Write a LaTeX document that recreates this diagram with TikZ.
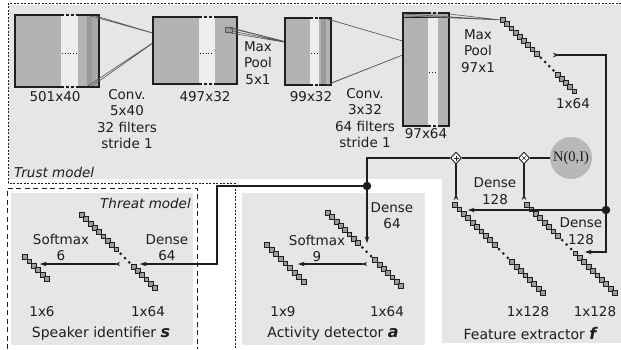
\documentclass[tikz,border=0pt]{standalone}
\usepackage{fontspec}
\setmainfont{DejaVu Sans}
\newfontfamily\nfont{Liberation Serif}
\usetikzlibrary{arrows.meta,shapes.geometric}

\definecolor{panel}{HTML}{E6E6E6}
\definecolor{stripe}{HTML}{EEEEEE}
\definecolor{blockgray}{HTML}{B3B3B3}
\definecolor{darkslice}{HTML}{999999}
\definecolor{midslice}{HTML}{A8A8A8}
\definecolor{ink}{HTML}{1E1E1E}
\definecolor{cellgray}{HTML}{9C9C9C}
\definecolor{projgray}{HTML}{5A5A5A}
\definecolor{noisegray}{HTML}{B8B8B8}

\tikzset{
  lbl/.style={font=\fontsize{13.5}{16.5}\selectfont, text=ink, align=center, inner sep=0pt},
  wire/.style={draw=ink, line width=1.1pt},
  fwd/.style={-{Stealth[length=6.5pt,width=4.5pt,inset=2pt]}},
  bwd/.style={-{Stealth[length=6.5pt,width=4.5pt,inset=2pt,reversed]}},
  softarrow/.style={{Stealth[length=5pt,width=4pt,inset=1.5pt,reversed]}-{Stealth[length=6.5pt,width=4.5pt,inset=2pt]}},
  cell/.style={draw=ink, fill=cellgray, line width=1pt},
  proj/.style={draw=projgray, line width=0.6pt},
  blk/.style={draw=ink, line width=1.2pt},
  blkdash/.style={draw=ink, line width=1.2pt, dash pattern=on 3pt off 2pt},
  junction/.style={circle, fill=ink, minimum size=8.5pt, inner sep=0pt},
  op/.style={diamond, draw=ink, fill=white, line width=0.9pt, minimum width=11pt, minimum height=12pt, inner sep=0pt},
  trustline/.style={draw=ink, line width=0.7pt, dash pattern=on 2pt off 1.5pt},
  threatline/.style={draw=ink, line width=0.8pt, dash pattern=on 5pt off 3.5pt},
}

% diagonal run of cells with a row of dots: x, y, cells before, dots, cells after, step
\newcommand\vchain[6]{%
  \pgfmathtruncatemacro\vlast{#3+#4+#5-1}%
  \foreach \k [evaluate=\k as \px using #1+\k*#6, evaluate=\k as \py using #2+\k*#6] in {0,...,\vlast}{%
    \ifnum\k<#3\relax
      \draw[cell] (\px-2.4,\py-2.4) rectangle (\px+2.4,\py+2.4);
    \else\ifnum\k<\numexpr#3+#4\relax
      \fill[ink] (\px,\py) circle (1.5pt);
    \else
      \draw[cell] (\px-2.4,\py-2.4) rectangle (\px+2.4,\py+2.4);
    \fi\fi}}

\begin{document}
\begin{tikzpicture}[x=1pt,y=-1pt]
\useasboundingbox (0,0) rectangle (621,349);

% ---------- panels ----------
\fill[panel] (9,5) rectangle (621,179);
\fill[panel] (442,179) rectangle (621,343);
\fill[panel] (242,193) rectangle (425,345);
\fill[panel] (11,193) rectangle (193,345);

% ---------- model boundaries ----------
\draw[trustline] (621,3) -- (8,3) -- (8,183) -- (235,183) -- (235,349);
\draw[threatline] (7,349) -- (7,188) -- (197,188) -- (197,349);
\node[lbl, anchor=west, font=\fontsize{13.5}{16}\selectfont\itshape] (trust) at (14,172) {Trust model};
\node[lbl, anchor=east, font=\fontsize{13.5}{16}\selectfont\itshape] (threat) at (191,203) {Threat model};

% ---------- block 501x40 ----------
\fill[blockgray] (15,15) rectangle (99,87);
\fill[stripe] (61,15) rectangle (78,87);
\fill[darkslice] (87,15) rectangle (92,87);
\fill[midslice] (92,15) rectangle (99,87);
\draw[blk] (61,15) -- (15,15) -- (15,87) -- (61,87);
\draw[blk] (78,15) -- (99,15) -- (99,87) -- (78,87);
\draw[blkdash] (61,15) -- (78,15) (61,87) -- (78,87);
\draw[ink, line width=0.8pt, dotted] (62,53) -- (77,53);
\coordinate (p1) at (163,36);
\draw[proj] (91,16) -- (p1) (96,16) -- (p1) (88,86) -- (p1) (92,86) -- (p1);
\node[lbl] (b1) at (55,97) {501x40};
\node[lbl] (conv1) at (127,119) {Conv.\\5x40\\32 filters\\stride 1};

% ---------- block 497x32 ----------
\fill[blockgray] (153,17) rectangle (237,84);
\fill[stripe] (199,17) rectangle (215,84);
\draw[blk] (199,17) -- (153,17) -- (153,84) -- (199,84);
\draw[blk] (215,17) -- (237,17) -- (237,84) -- (215,84);
\draw[blkdash] (199,17) -- (215,17) (199,84) -- (215,84);
\draw[ink, line width=0.8pt, dotted] (200,53) -- (214,53);
\fill[darkslice] (225,27) rectangle (232,32);
\draw[projgray, line width=0.5pt] (225,27) rectangle (232,32);
\coordinate (p2) at (295,44);
\draw[proj] (225,27) -- (p2) (232,28) -- (p2) (225,32) -- (p2) (232,31) -- (p2);
\node[lbl] (b2) at (205,97) {497x32};
\node[lbl] (pool1) at (258,63) {Max\\Pool\\5x1};

% ---------- block 99x32 ----------
\fill[blockgray] (285,18) rectangle (331,85);
\fill[stripe] (310,18) rectangle (319,85);
\fill[darkslice] (321,18) rectangle (326,85);
\draw[blk] (310,18) -- (285,18) -- (285,85) -- (310,85);
\draw[blk] (319,18) -- (331,18) -- (331,85) -- (319,85);
\draw[blkdash] (310,18) -- (319,18) (310,85) -- (319,85);
\draw[ink, line width=0.8pt, dotted] (311,53) -- (318,53);
\coordinate (p3) at (423,47);
\draw[proj] (327,19) -- (p3) (331,20) -- (p3) (327,85) -- (p3) (331,83) -- (p3);
\node[lbl] (b3) at (311,97) {99x32};
\node[lbl] (conv2) at (365,118) {Conv.\\3x32\\64 filters\\stride 1};

% ---------- block 97x64 ----------
\fill[blockgray] (403,13) rectangle (449,126);
\fill[stripe] (428,13) rectangle (438,126);
\fill[midslice] (403,13) rectangle (449,17);
\draw[blk] (428,13) -- (403,13) -- (403,126) -- (428,126);
\draw[blk] (438,13) -- (449,13) -- (449,126) -- (438,126);
\draw[blkdash] (428,13) -- (438,13) (428,126) -- (438,126);
\draw[ink, line width=0.6pt] (403,17) -- (449,17);
\draw[ink, line width=0.8pt, dotted] (429,72) -- (437,72);
\coordinate (p4) at (501,20);
\draw[proj] (403,14) -- (p4) (406,16) -- (p4) (449,14) -- (p4) (449,17) -- (p4);
\node[lbl] (b4) at (426,134) {97x64};
\node[lbl] (pool2) at (478,51) {Max\\Pool\\97x1};

% ---------- pooled 1x64 ----------
\vchain{503}{20}{9}{4}{5}{4.2}
\node[lbl] (v64top) at (573,104) {1x64};

% ---------- feature extractor f ----------
\vchain{455}{205}{10}{3}{8}{4.4}
\vchain{527}{205}{8}{3}{10}{4.4}
\node[lbl] (fl) at (528,312) {1x128};
\node[lbl] (fr) at (595,312) {1x128};
\node[lbl, font=\fontsize{14}{16}\selectfont] (fname) at (530,334) {Feature extractor {\fontsize{16}{16}\selectfont\bfseries\itshape f}};

\node[junction] (jf) at (606,210) {};
\coordinate (topin) at (553,55);
\coordinate (topturn) at (606,55);
\coordinate (mu) at (468,210);
\coordinate (sgturn) at (606,252);
\coordinate (sg) at (585,252);
\draw[wire, bwd] (jf) -- (topturn) -- (topin);
\draw[wire, fwd] (jf) -- (mu);
\draw[wire, fwd] (jf) -- (sgturn) -- (sg);
\node[lbl] (dmu) at (495,191) {Dense\\128};
\node[lbl] (dsg) at (581,231) {Dense\\128};

\node[op] (plus) at (456,158) {};
\node[op] (times) at (524,158) {};
\draw[ink, line width=0.6pt] (453.5,158) -- (458.5,158) (456,155.5) -- (456,160.5);
\draw[ink, line width=0.6pt] (522.3,156.3) -- (525.7,159.7) (522.3,159.7) -- (525.7,156.3);
\node[circle, fill=noisegray, minimum size=42pt, inner sep=0pt, font=\nfont\fontsize{14.5}{16}\selectfont, text=ink] (noise) at (571,158) {N(0,I)};
\coordinate (plusin) at (456,200);
\coordinate (timesin) at (524,200);
\draw[wire, bwd] (plus) -- (plusin);
\draw[wire, bwd] (times) -- (timesin);
\draw[wire] (times) -- (noise);

% ---------- shared code branch ----------
\node[junction] (ja) at (367,186) {};
\coordinate (jup) at (367,158);
\draw[wire] (ja) -- (jup) -- (plus);
\draw[wire] (plus) -- (times);

% ---------- activity detector a ----------
\vchain{328}{213}{8}{3}{7}{4.3}
\vchain{267}{245}{9}{0}{0}{4.6}
\coordinate (ain) at (367,243);
\draw[wire, fwd] (ja) -- (ain);
\coordinate (aout0) at (367,264);
\coordinate (aout1) at (298,264);
\draw[wire, softarrow] (aout0) -- (aout1);
\node[lbl] (ad) at (392,215.5) {Dense\\64};
\node[lbl] (as) at (317,248.5) {Softmax\\9};
\node[lbl] (a9) at (283,312) {1x9};
\node[lbl] (a64) at (387,312) {1x64};
\node[lbl, font=\fontsize{14}{16}\selectfont] (aname) at (333,334) {Activity detector {\fontsize{16}{16}\selectfont\bfseries\itshape a}};

% ---------- speaker identifier s ----------
\vchain{82}{215}{9}{3}{6}{4.3}
\vchain{25}{257}{6}{0}{0}{4.4}
\coordinate (sturn0) at (217,186);
\coordinate (sturn1) at (217,264);
\coordinate (sin) at (140,264);
\draw[wire, fwd] (ja) -- (sturn0) -- (sturn1) -- (sin);
\coordinate (sout0) at (120,264);
\coordinate (sout1) at (40,264);
\draw[wire, softarrow] (sout0) -- (sout1);
\node[lbl] (sd) at (167,247.5) {Dense\\64};
\node[lbl] (ss) at (61,247.5) {Softmax\\6};
\node[lbl] (s6) at (42,312) {1x6};
\node[lbl] (s64) at (148,312) {1x64};
\node[lbl, font=\fontsize{14}{16}\selectfont] (sname) at (101,334) {Speaker identifier {\fontsize{16}{16}\selectfont\bfseries\itshape s}};
\end{tikzpicture}
\end{document}
